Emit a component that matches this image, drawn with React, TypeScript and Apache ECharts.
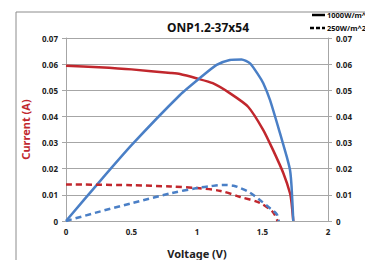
import React, { useEffect, useRef } from "react";
import * as echarts from "echarts";

const titleText = "ONP1.2-37x54";
const legendLabels = ["1000W/m^2", "250W/m^2"];
const xTicks = [0, 0.5, 1, 1.5, 2];

const v1000I = [0, 0.25, 0.5, 0.8, 0.87, 1.0, 1.12, 1.25, 1.39, 1.506, 1.58, 1.66, 1.71, 1.722, 1.735];
const i1000 = [0.0594, 0.0588, 0.058, 0.0566, 0.0562, 0.0545, 0.0527, 0.0489, 0.0437, 0.0348, 0.0272, 0.0182, 0.0106, 0.0068, 0];

const v1000P = [0, 0.25, 0.5, 0.87, 1.02, 1.15, 1.25, 1.34, 1.405, 1.468, 1.506, 1.557, 1.634, 1.685, 1.71, 1.722, 1.735];
const p1000 = [0, 0.0147, 0.029, 0.0482, 0.0546, 0.0597, 0.0616, 0.0618, 0.0603, 0.0559, 0.0527, 0.0463, 0.0335, 0.0246, 0.0195, 0.0131, 0];

const v250I = [0, 0.5, 0.8, 1.0, 1.18, 1.33, 1.48, 1.58, 1.615];
const i250 = [0.014, 0.0137, 0.0132, 0.0126, 0.0115, 0.0092, 0.0069, 0.0034, 0];

const v250P = [0, 0.25, 0.5, 0.8, 1.0, 1.1, 1.2, 1.28, 1.33, 1.4, 1.48, 1.56, 1.61, 1.625];
const p250 = [0, 0.0035, 0.0068, 0.0106, 0.0126, 0.0133, 0.0138, 0.0135, 0.0126, 0.011, 0.008, 0.0048, 0.0025, 0];

const RED = "#c1272d";
const BLUE = "#4a7fc6";
const GRID = "#a6a6a6";
const FONT = "Noto Sans";

const pairs = (xs: number[], ys: number[]) => xs.map((x, i) => [x, ys[i]]);

export default function App() {
  const ref = useRef<HTMLDivElement>(null);
  useEffect(() => {
    const chart = echarts.init(ref.current!, null, { renderer: "svg" });
    const yAxisCommon = {
      type: "value",
      min: 0,
      max: 0.07,
      interval: 0.01,
      axisLine: { show: true, lineStyle: { color: GRID, width: 1 } },
      axisTick: { show: true, length: 4, lineStyle: { color: GRID } },
      axisLabel: {
        color: "#222",
        fontSize: 8,
        fontWeight: "bold",
        fontFamily: FONT,
        formatter: (v: number) => (v === 0 ? "0" : v.toFixed(2)),
      },
    };
    chart.setOption({
      animation: false,
      title: {
        text: titleText,
        left: 203,
        top: 16,
        textAlign: "center",
        textStyle: { fontSize: 12, fontWeight: "bold", fontFamily: FONT, color: "#111" },
      },
      grid: { left: 66, right: 37, top: 38, bottom: 39, outerBoundsMode: "none", containLabel: false },
      xAxis: {
        type: "value",
        min: 0,
        max: 2,
        interval: 0.5,
        name: "Voltage (V)",
        nameLocation: "middle",
        nameGap: 27,
        nameTextStyle: { fontSize: 11, fontWeight: "bold", fontFamily: FONT, color: "#222" },
        axisLine: { show: true, lineStyle: { color: GRID } },
        axisTick: { show: false },
        splitLine: { show: false },
        axisLabel: {
          color: "#222",
          fontSize: 8,
          fontWeight: "bold",
          fontFamily: FONT,
          margin: 6,
          formatter: (v: number) => (xTicks.includes(v) ? String(v) : ""),
        },
      },
      yAxis: [
        {
          ...yAxisCommon,
          position: "left",
          name: "Current (A)",
          nameLocation: "middle",
          nameRotate: 90,
          nameGap: 30,
          nameTextStyle: { fontSize: 11, fontWeight: "bold", fontFamily: FONT, color: RED },
          splitLine: { show: true, lineStyle: { color: GRID, width: 1 } },
        },
        {
          ...yAxisCommon,
          position: "right",
          name: "Power (W)",
          nameLocation: "middle",
          nameRotate: -90,
          nameGap: 40,
          nameTextStyle: { fontSize: 11, fontWeight: "bold", fontFamily: FONT, color: BLUE },
          splitLine: { show: false },
        },
      ],
      series: [
        {
          type: "line",
          yAxisIndex: 0,
          data: pairs(v1000I, i1000),
          smooth: 0.2,
          symbol: "none",
          lineStyle: { color: RED, width: 2.5 },
        },
        {
          type: "line",
          yAxisIndex: 1,
          data: pairs(v1000P, p1000),
          smooth: 0.2,
          symbol: "none",
          lineStyle: { color: BLUE, width: 2.5 },
        },
        {
          type: "line",
          yAxisIndex: 0,
          data: pairs(v250I, i250),
          smooth: 0.3,
          symbol: "none",
          lineStyle: { color: RED, width: 2.5, type: [6, 4] },
        },
        {
          type: "line",
          yAxisIndex: 1,
          data: pairs(v250P, p250),
          smooth: 0.3,
          symbol: "none",
          lineStyle: { color: BLUE, width: 2.5, type: [6, 4] },
        },
      ],
      graphic: [
        { type: "line", shape: { x1: 16, y1: 12, x2: 365, y2: 12 }, style: { stroke: "#8c8c8c", lineWidth: 1 } },
        { type: "line", shape: { x1: 16, y1: 12, x2: 16, y2: 260 }, style: { stroke: "#8c8c8c", lineWidth: 1 } },
        { type: "line", shape: { x1: 312, y1: 15, x2: 325, y2: 15 }, style: { stroke: "#000", lineWidth: 2.5 } },
        { type: "line", shape: { x1: 310, y1: 28, x2: 325, y2: 28 }, style: { stroke: "#000", lineWidth: 2.5, lineDash: [4, 2] } },
        {
          type: "text",
          x: 327,
          y: 15,
          style: { text: legendLabels[0], fontSize: 7.5, fontWeight: "bold", fontFamily: FONT, fill: "#111", verticalAlign: "middle" },
        },
        {
          type: "text",
          x: 327,
          y: 28,
          style: { text: legendLabels[1], fontSize: 7.5, fontWeight: "bold", fontFamily: FONT, fill: "#111", verticalAlign: "middle" },
        },
      ],
    });
    return () => chart.dispose();
  }, []);
  return <div ref={ref} style={{ width: 365, height: 260, position: "absolute", left: 0, top: 0 }} />;
}
